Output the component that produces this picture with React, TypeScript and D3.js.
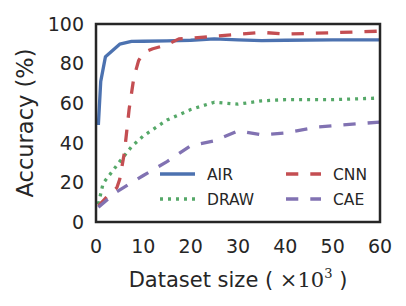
import * as React from 'react'
import {scaleLinear, line} from 'd3'

// values (x in thousands, y in %)
const airX = [0.5, 1, 2, 5, 7.5, 10, 15, 20, 25, 30, 35, 40, 50, 60]
const airY = [49, 71, 83.5, 89.8, 91.2, 91.3, 91.5, 91.8, 92.5, 92, 91.6, 91.8, 92, 92]
const drawX = [0.5, 1.5, 5, 7.5, 10, 15, 20, 25, 30, 35, 40, 50, 60]
const drawY = [9, 19.5, 30.5, 38, 43.5, 51.5, 56.8, 60.5, 59.5, 61.2, 61.8, 61.8, 62.6]
const cnnX = [0.5, 2, 4.4, 5, 6, 7, 8, 9, 10, 12, 15, 17.5, 20, 25, 30, 35, 40, 50, 60]
const cnnY = [8, 12, 17.3, 21.5, 35, 57, 73, 81.5, 85.5, 87.5, 89.5, 92.5, 92.8, 93.8, 94.8, 95.8, 94.9, 95.6, 96.4]
const caeX = [0.5, 4.4, 10, 15, 20, 25, 30, 35, 40, 47, 60]
const caeY = [7.5, 15.3, 23.5, 30.5, 38.5, 41, 46, 44, 45, 48, 50.5]

const xTicks = [0, 10, 20, 30, 40, 50, 60]
const yTicks = [0, 20, 40, 60, 80, 100]

const series = [
  {name: 'AIR', xs: airX, ys: airY, color: '#4C72B0', dash: undefined},
  {name: 'DRAW', xs: drawX, ys: drawY, color: '#55A868', dash: '3,5'},
  {name: 'CNN', xs: cnnX, ys: cnnY, color: '#C44E52', dash: '12.3,12'},
  {name: 'CAE', xs: caeX, ys: caeY, color: '#8172B2', dash: '12.3,12'},
]

const font = 'DejaVu Sans, sans-serif'
const ink = '#262626'

export default function App() {
  const x = scaleLinear().domain([0, 60]).range([96, 380])
  const y = scaleLinear().domain([0, 100]).range([222, 24])
  const path = line<[number, number]>().x(d => x(d[0])).y(d => y(d[1]))

  // legend slots: two columns
  const legendPos = [
    {lx: 160, ly: 174},
    {lx: 160, ly: 199},
    {lx: 286, ly: 174},
    {lx: 286, ly: 199},
  ]

  return (
    <svg width={406} height={306} style={{position: 'absolute', left: 0, top: 0}} fontFamily={font}>
      <rect width={406} height={306} fill="white" />
      <defs>
        <clipPath id="plot">
          <rect x={96} y={24} width={284} height={198} />
        </clipPath>
      </defs>
      <g clipPath="url(#plot)">
        {series.map(s => (
          <path key={s.name}
            d={path(s.xs.map((v, i) => [v, s.ys[i]] as [number, number])) || ''}
            fill="none" stroke={s.color} strokeWidth={3.3}
            strokeDasharray={s.dash} strokeLinejoin="round" />
        ))}
      </g>
      <rect x={96} y={24} width={284} height={198} fill="none" stroke={ink} strokeWidth={2.5} />

      {yTicks.map(t => (
        <text key={t} x={84} y={y(t)} dy="0.36em" textAnchor="end" fontSize={19} fill={ink}>{t}</text>
      ))}
      {xTicks.map(t => (
        <text key={t} x={x(t)} y={253} textAnchor="middle" fontSize={19} fill={ink}>{t}</text>
      ))}

      <text x={238} y={287} textAnchor="middle" fontSize={21} fill={ink}>
        Dataset size (
        <tspan fontFamily="DejaVu Serif, serif"> ×10</tspan>
        <tspan fontFamily="DejaVu Serif, serif" fontSize={13} dy={-9}>3</tspan>
        <tspan dy={9}> )</tspan>
      </text>
      <text transform={`translate(33,${y(50)}) rotate(-90)`} textAnchor="middle" fontSize={22.5} fill={ink}>
        Accuracy (%)
      </text>

      {series.map((s, i) => {
        const p = legendPos[i]
        return (
          <g key={s.name}>
            <line x1={p.lx} x2={p.lx + 35} y1={p.ly} y2={p.ly}
              stroke={s.color} strokeWidth={3.3} strokeDasharray={s.dash} />
            <text x={p.lx + 47} y={p.ly} dy="0.36em" fontSize={15.5} fill={ink}>{s.name}</text>
          </g>
        )
      })}
    </svg>
  )
}
